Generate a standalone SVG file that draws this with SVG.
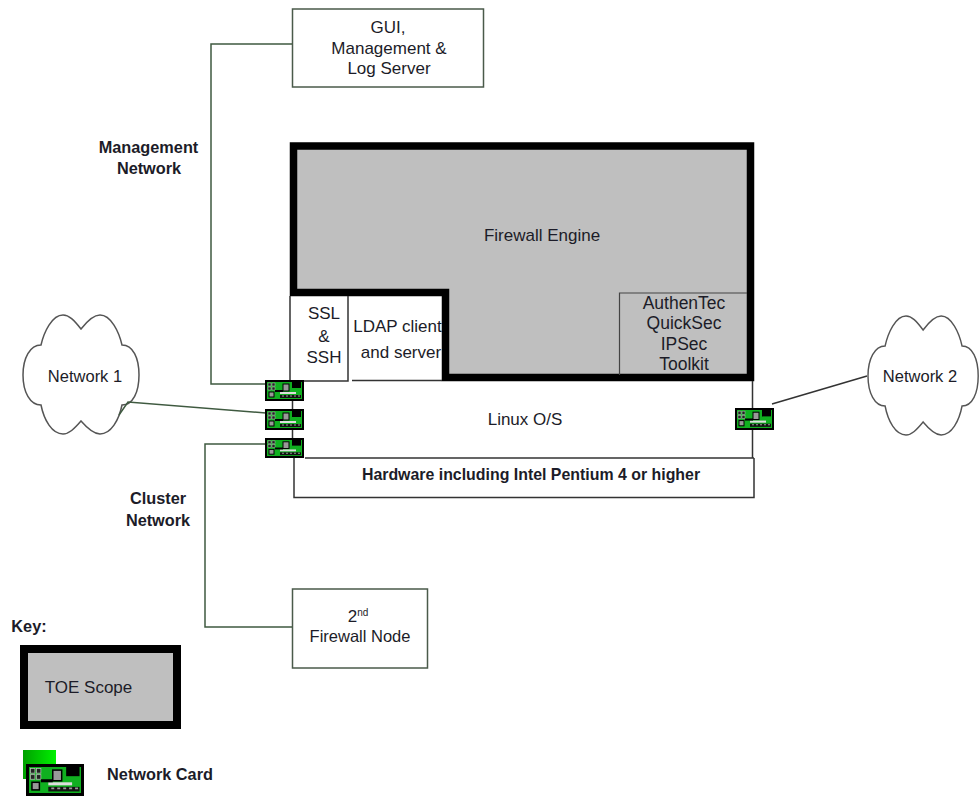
<svg xmlns="http://www.w3.org/2000/svg" width="979" height="796" viewBox="0 0 979 796">
<style>
text{font-family:"Liberation Sans",Arial,sans-serif;font-size:17px;fill:#1c1c28;text-anchor:middle}
.b{font-weight:bold;font-size:16.300px}
.thin{fill:none;stroke:#333;stroke-width:1.500}
.box{fill:#fff;stroke:#4a5a4a;stroke-width:1.500}
.scope{fill:#bfbfbf;stroke:#000;stroke-miterlimit:10}
.cloud{fill:#fff;stroke:#555;stroke-width:1.500}
.conn{fill:none;stroke:#3f5a40;stroke-width:1.500}
</style>
<defs>
<linearGradient id="g" x1="0" y1="0" x2="1" y2="0"><stop offset="0" stop-color="#00a000"/><stop offset="1" stop-color="#00f000"/></linearGradient>
<symbol id="card" viewBox="0 0 39 21" preserveAspectRatio="none">
<path d="M1,1H38V20H1Z" fill="#10b020" stroke="#000" stroke-width="2"/>
<path d="M27,1H36V8H27Z" fill="#000"/>
<rect x="3" y="3" width="3" height="3" fill="#222" stroke="#bbb" stroke-width=".5"/>
<rect x="7" y="3" width="3" height="3" fill="#222" stroke="#bbb" stroke-width=".5"/>
<rect x="3" y="7" width="3" height="3" fill="#222" stroke="#bbb" stroke-width=".5"/>
<rect x="7" y="7" width="3" height="3" fill="#222" stroke="#bbb" stroke-width=".5"/>
<rect x="4" y="12" width="5" height="5" fill="#999" stroke="#000"/>
<rect x="18" y="4" width="6" height="7" fill="#999" stroke="#000"/>
<path d="M15,12H31V14H15Z" fill="#ddd"/>
<path d="M15,15H36V18H15Z" fill="#111"/>
<path d="M17,16H35" stroke="#999" stroke-width="1" stroke-dasharray="2 2"/>
<path d="M10,10H18V12H10Z" fill="#000"/>
</symbol>
</defs>
<g id="network1"><path class="cloud" d="M81,329C74,320 69,315 63,315C52,315 44,332 41,345C30,345 23,358 23,375C23,392 30,405 41,405C44,420 52,434 63,434C69,434 74,429 81,421C88,429 94,434 100,434C111,434 119,420 122,405C133,405 139,392 139,375C139,358 133,345 122,345C119,332 111,315 100,315C94,315 88,320 81,329Z"/>
<text x="85" y="382" style="font-size:16.500px">Network 1</text></g>
<g id="network2"><path class="cloud" transform="translate(868,1) scale(.95,1) translate(-23,0)" d="M81,329C74,320 69,315 63,315C52,315 44,332 41,345C30,345 23,358 23,375C23,392 30,405 41,405C44,420 52,434 63,434C69,434 74,429 81,421C88,429 94,434 100,434C111,434 119,420 122,405C133,405 139,392 139,375C139,358 133,345 122,345C119,332 111,315 100,315C94,315 88,320 81,329Z"/>
<text x="920" y="382" style="font-size:16.500px">Network 2</text></g>
<g id="connectors">
<path class="conn" d="M292,44H211V384H266"/>
<path class="conn" d="M119,415L128,402L266,413"/>
<path class="conn" d="M266,444H205V627H292"/>
<path class="thin" d="M772,404L867,376"/>
</g>
<g id="gui"><rect class="box" x="292.500" y="9" width="191" height="78"/>
<text x="388" y="33">GUI,</text><text x="389" y="54">Management &amp;</text><text x="389" y="74">Log Server</text></g>
<g id="engine"><path class="scope" stroke-width="7.500" d="M293.500,146H750.500V377.500H445.500V292.500H293.500Z"/>
<text x="542" y="241">Firewall Engine</text></g>
<g id="quicksec"><path fill="none" stroke="#444" stroke-width="1.200" d="M619.500,375V293H747"/>
<text x="684" y="309" style="font-size:17.500px">AuthenTec</text><text x="684" y="329" style="font-size:17.500px">QuickSec</text><text x="684" y="350" style="font-size:17.500px">IPSec</text><text x="684" y="370" style="font-size:17.500px">Toolkit</text></g>
<g id="ssl"><path class="thin" d="M290,296V381H348V296"/>
<text x="324" y="319">SSL</text><text x="324" y="342">&amp;</text><text x="324" y="363">SSH</text></g>
<g id="ldap"><path class="thin" d="M352,380.500H442"/>
<text x="397.500" y="332">LDAP client</text><text x="401" y="358">and server</text></g>
<g id="linux"><path class="thin" d="M752.500,381V458M305,458H754M292.500,400V410M292.500,430V440"/>
<text x="525" y="425">Linux O/S</text></g>
<g id="hardware"><path class="thin" d="M294,458V497.500H754V458"/>
<text x="531" y="480" class="b" style="font-size:15.900px">Hardware including Intel Pentium 4 or higher</text></g>
<g id="card-mgmt"><use href="#card" x="265" y="380" width="39" height="21"/></g>
<g id="card-net1"><use href="#card" x="265" y="409" width="39" height="21"/></g>
<g id="card-cluster"><use href="#card" x="265" y="438" width="39" height="20"/></g>
<g id="card-net2"><use href="#card" x="735" y="408" width="39" height="22"/></g>
<g id="mgmt-label"><text x="148.500" y="153" class="b">Management</text><text x="149" y="174" class="b">Network</text></g>
<g id="cluster-label"><text x="158" y="504" class="b">Cluster</text><text x="158" y="526" class="b">Network</text></g>
<g id="node2"><rect class="box" x="292.500" y="589" width="135" height="79"/>
<text x="358" y="622">2<tspan font-size="10" dy="-6">nd</tspan></text><text x="360" y="642" style="font-size:16.500px">Firewall Node</text></g>
<g id="key"><text x="29" y="632" class="b">Key:</text>
<rect class="scope" stroke-width="8" x="24" y="649" width="153" height="76"/>
<text x="88.500" y="693">TOE Scope</text></g>
<g id="key-card"><rect x="23" y="750" width="33" height="29" fill="url(#g)"/>
<use href="#card" x="26" y="764" width="58" height="32"/>
<text x="160" y="780" class="b">Network Card</text></g>
</svg>
